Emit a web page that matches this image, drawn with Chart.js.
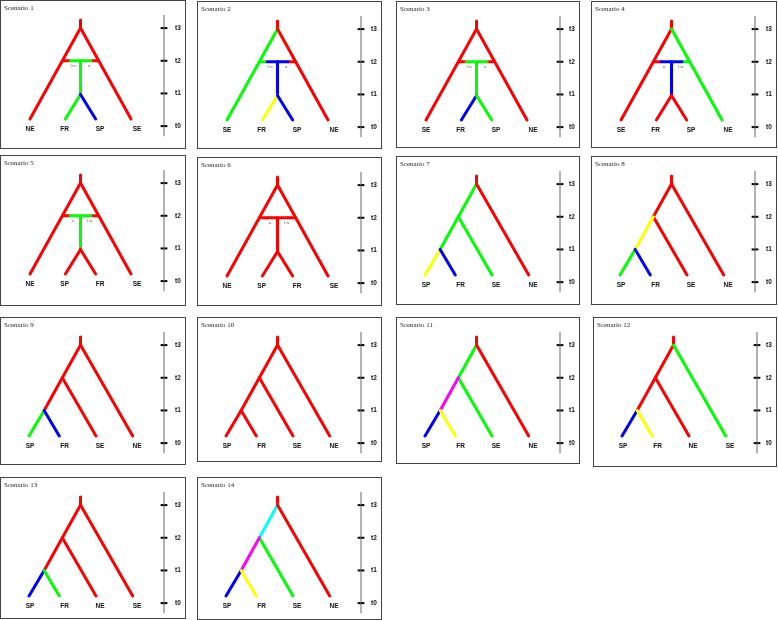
<!DOCTYPE html>
<html lang="en">
<head>
<meta charset="UTF-8">
<title>Scenarios</title>
<script src="https://cdn.jsdelivr.net/npm/chart.js"></script>
<style>
    body { margin: 0; background: #fff; }
    #board { position: relative; width: 778px; height: 620px; }
    .panel { position: absolute; border: 1px solid #444; box-sizing: border-box; background: #fff; }
    .panel canvas { display: block; }
</style>
</head>
<body>
<div id="board"></div>
<script>
// colours used on the branches
const R = '#ff0000', G = '#00ff00', B = '#0000ff', Y = '#ffff00', M = '#ff00ff', C = '#00ffff';

const scenarioTitles = ['Scenario 1', 'Scenario 2', 'Scenario 3', 'Scenario 4', 'Scenario 5', 'Scenario 6', 'Scenario 7',
    'Scenario 8', 'Scenario 9', 'Scenario 10', 'Scenario 11', 'Scenario 12', 'Scenario 13', 'Scenario 14'];

const tipNames = [
    ['NE', 'FR', 'SP', 'SE'], ['SE', 'FR', 'SP', 'NE'], ['SE', 'FR', 'SP', 'NE'], ['SE', 'FR', 'SP', 'NE'],
    ['NE', 'SP', 'FR', 'SE'], ['NE', 'SP', 'FR', 'SE'], ['SP', 'FR', 'SE', 'NE'], ['SP', 'FR', 'SE', 'NE'],
    ['SP', 'FR', 'SE', 'NE'], ['SP', 'FR', 'SE', 'NE'], ['SP', 'FR', 'SE', 'NE'], ['SP', 'FR', 'NE', 'SE'],
    ['SP', 'FR', 'NE', 'SE'], ['SP', 'FR', 'SE', 'NE']
];
const tipLabelX = [0, 1.03, 2.08, 3.18];

const timeLabels = ['t0', 't1', 't2', 't3'];
const timeValues = [0, 1, 2, 3];

// admixture trees (scenarios 1-6): node coordinates (x, time)
const hybRoot = [1.5, 3], hybTop = [1.5, 3.25];
const hybTips = [[0, 0.22], [1.05, 0.22], [1.95, 0.22], [3, 0.22]];
const hybBarX = [0.964, 1.19, 1.81, 2.036];   // bar at t2
const hybStem = [[1.5, 2], [1.5, 0.97]];
// colours: stub, outer left, outer right, stem, inner left, inner right
const hybColours = [
    [R, R, R, G, G, B],
    [R, G, R, B, Y, B],
    [R, R, R, G, B, G],
    [R, R, G, B, R, R],
    [R, R, R, G, R, R],
    [R, R, R, R, R, R]
];
const alphaText = [['1-α', 'α'], ['1-α', 'α'], ['1-α', 'α'], ['α', '1-α'], ['α', '1-α'], ['α', '1-α']];
const alphaX = [1.27, 1.76];
const alphaY = 1.84;

// bifurcating trees (scenarios 7-14)
const ladRoot = [1.5, 3], ladTop = [1.5, 3.25];
const ladNode2 = [0.96, 2], ladNode1 = [0.42, 1];
const ladTips = [[-0.03, 0.22], [0.87, 0.22], [1.96, 0.22], [3.05, 0.22]];
// colours: stub, root->node2, root->tip4, node2->tip3, node2->node1, node1->tip1, node1->tip2
const ladColours = [
    [R, G, R, G, G, Y, B],
    [R, R, R, R, Y, G, B],
    [R, R, R, R, R, G, B],
    [R, R, R, R, R, R, R],
    [R, G, R, G, M, B, Y],
    [R, R, G, R, R, B, Y],
    [R, R, R, R, R, B, G],
    [R, C, R, G, M, B, Y]
];

// time axis drawn inside the plot
const axisX = 3.98;
const axisSpan = [-0.31, 3.4];
const tickHalf = 0.1;

// panel boxes: left, top, width, height
const panelBoxes = [
    [0, 0, 186, 149], [197, 1, 185, 148], [396, 1, 184, 147], [591, 1, 186, 147],
    [0, 155, 186, 151], [197, 157, 185, 149], [396, 156, 184, 149], [591, 156, 186, 149],
    [0, 317, 186, 148], [197, 317, 185, 145], [396, 317, 184, 147], [593, 317, 184, 150],
    [0, 477, 186, 142], [197, 477, 185, 143]
];

const unitX = 33.67, unitY = 32.67;
const yMin = -0.45, yMax = 3.45;
const titleH = 7 * 1.2 + 4;

function pt(p) { return { x: p[0], y: p[1] }; }

function hybridSegments(i) {
    const [stub, oL, oR, stem, iL, iR] = hybColours[i];
    return [
        [hybTop, hybRoot, stub],
        [hybRoot, hybTips[0], oL],
        [hybRoot, hybTips[3], oR],
        [[hybBarX[0], 2], [hybBarX[1], 2], oL],
        [[hybBarX[2], 2], [hybBarX[3], 2], oR],
        [[hybBarX[1], 2], [hybBarX[2], 2], stem],
        [hybStem[0], hybStem[1], stem],
        [hybStem[1], hybTips[1], iL],
        [hybStem[1], hybTips[2], iR]
    ];
}

function ladderSegments(i) {
    const [stub, rn2, rt4, n2t3, n2n1, n1t1, n1t2] = ladColours[i];
    return [
        [ladTop, ladRoot, stub],
        [ladRoot, ladNode2, rn2],
        [ladRoot, ladTips[3], rt4],
        [ladNode2, ladTips[2], n2t3],
        [ladNode2, ladNode1, n2n1],
        [ladNode1, ladTips[0], n1t1],
        [ladNode1, ladTips[1], n1t2]
    ];
}

const alphaPlugin = {
    id: 'alphaMarks',
    afterDatasetsDraw(chart, args, opts) {
        if (!opts.text) return;
        const { ctx } = chart;
        const x = chart.scales.x, y = chart.scales.y;
        ctx.save();
        ctx.font = '4px "Liberation Serif"';
        ctx.fillStyle = '#555';
        ctx.textAlign = 'center';
        ctx.textBaseline = 'middle';
        opts.text.forEach((t, k) => ctx.fillText(t, x.getPixelForValue(alphaX[k]), y.getPixelForValue(alphaY)));
        ctx.restore();
    }
};

// no extra margins from tick labels, so the plot area is where the layout says
function noMargins(s) {
    s.paddingTop = 0;
    s.paddingBottom = 0;
    s.paddingLeft = 0;
    s.paddingRight = 0;
}

const board = document.getElementById('board');

scenarioTitles.forEach((title, i) => {
    const [left, top, w, h] = panelBoxes[i];
    const panel = document.createElement('div');
    panel.className = 'panel';
    panel.style.left = left + 'px';
    panel.style.top = top + 'px';
    panel.style.width = w + 'px';
    panel.style.height = h + 'px';
    const canvas = document.createElement('canvas');
    const cw = w - 2, ch = h - 2;
    canvas.width = cw;
    canvas.height = ch;
    panel.appendChild(canvas);
    board.appendChild(panel);

    const segs = i < 6 ? hybridSegments(i) : ladderSegments(i - 6);
    const datasets = segs.map(s => ({
        data: [pt(s[0]), pt(s[1])],
        showLine: true,
        borderColor: s[2],
        borderWidth: 3,
        borderCapStyle: 'round',
        pointRadius: 0
    }));
    datasets.reverse();

    // time axis line and its tick marks
    datasets.push({
        data: [{ x: axisX, y: axisSpan[0] }, { x: axisX, y: axisSpan[1] }],
        showLine: true, borderColor: '#666', borderWidth: 1, pointRadius: 0, clip: false
    });
    timeValues.forEach(t => datasets.push({
        data: [{ x: axisX - tickHalf, y: t }, { x: axisX + tickHalf, y: t }],
        showLine: true, borderColor: '#000', borderWidth: 2, pointRadius: 0, clip: false
    }));

    const padLeft = 3, axisW = 17;
    const xMin = -(30 - 1 - padLeft) / unitX;
    const xMax = xMin + (cw - axisW - padLeft) / unitX;
    const padBottom = Math.max(0, ch - titleH - unitY * (yMax - yMin));

    new Chart(canvas, {
        type: 'scatter',
        data: { datasets },
        plugins: [alphaPlugin],
        options: {
            responsive: false,
            animation: false,
            layout: { padding: { left: padLeft, right: 0, top: 0, bottom: padBottom } },
            scales: {
                x: {
                    type: 'linear',
                    min: xMin,
                    max: xMax,
                    position: { y: 0.03 },
                    grid: { display: false, drawTicks: false, tickLength: 0 },
                    border: { display: false },
                    afterFit: noMargins,
                    afterBuildTicks: s => { s.ticks = tipLabelX.map(v => ({ value: v })); },
                    ticks: {
                        autoSkip: false,
                        maxRotation: 0,
                        padding: 0,
                        color: '#111',
                        font: { family: 'Liberation Sans', size: 6.5, weight: 'bold' },
                        callback: (v, k) => tipNames[i][k]
                    }
                },
                y: {
                    type: 'linear',
                    position: 'right',
                    min: yMin,
                    max: yMax,
                    grid: { display: false, drawTicks: false, tickLength: 0 },
                    border: { display: false },
                    afterFit: s => { noMargins(s); s.width = axisW; },
                    afterBuildTicks: s => { s.ticks = timeValues.map(v => ({ value: v })); },
                    ticks: {
                        padding: 7,
                        color: '#111',
                        font: { family: 'Liberation Sans', size: 6.5, weight: 'bold' },
                        callback: (v, k) => timeLabels[k]
                    }
                }
            },
            plugins: {
                legend: { display: false },
                tooltip: { enabled: false },
                title: {
                    display: true,
                    text: title,
                    align: 'start',
                    color: '#222',
                    padding: { top: 3, bottom: 1 },
                    font: { family: 'Liberation Serif', size: 7, weight: 'normal' }
                },
                alphaMarks: { text: i < 6 ? alphaText[i] : false }
            }
        }
    });
});
</script>
</body>
</html>
